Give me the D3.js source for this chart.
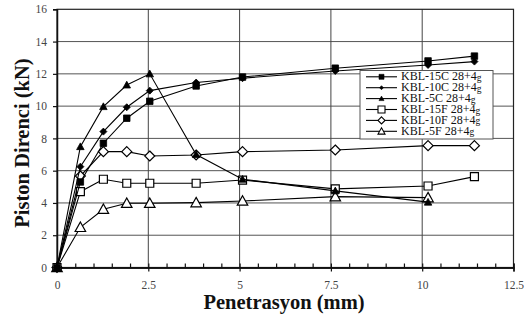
<!DOCTYPE html>
<html><head><meta charset="utf-8">
<script src="https://cdn.jsdelivr.net/npm/d3@7"></script>
<style>
html,body{margin:0;padding:0;background:#fff;}
svg text{font-family:'Liberation Serif','Times New Roman',Times,'DejaVu Serif',serif !important;}
</style></head>
<body>
<svg id="c" width="530" height="320"></svg>
<script>
const penetration = [0, 0.64, 1.27, 1.91, 2.54, 3.81, 5.08, 7.62, 10.16, 11.43];
const kbl15C = [0, 5.3, 7.7, 9.25, 10.3, 11.25, 11.8, 12.35, 12.8, 13.1];
const kbl10C = [0, 6.25, 8.42, 9.93, 10.96, 11.46, 11.73, 12.18, 12.55, 12.76];
const kbl5C  = [0, 7.49, 9.97, 11.31, 12.0, 7.0, 5.47, 4.75, 4.05, null];
const kbl15F = [0, 4.7, 5.47, 5.22, 5.22, 5.22, 5.42, 4.87, 5.05, 5.63];
const kbl10F = [0, 5.67, 7.18, 7.18, 6.91, 6.97, 7.18, 7.28, 7.55, 7.55];
const kbl5F  = [0, 2.49, 3.61, 3.98, 3.98, 4.02, 4.12, 4.39, 4.33, null];
const seriesNames = ["KBL-15C 28+4", "KBL-10C 28+4", "KBL-5C 28+4", "KBL-15F 28+4", "KBL-10F 28+4", "KBL-5F 28+4"];
const xTicks = [0, 2.5, 5, 7.5, 10, 12.5];
const yTicks = [0, 2, 4, 6, 8, 10, 12, 14, 16];
const xTitle = "Penetrasyon (mm)";
const yTitle = "Piston Direnci (kN)";

const series = [
  {name: seriesNames[0], values: kbl15C, shape: "square", fill: true, size: 6.5},
  {name: seriesNames[1], values: kbl10C, shape: "diamond", fill: true, size: 7},
  {name: seriesNames[2], values: kbl5C, shape: "triangle", fill: true, size: 7.5},
  {name: seriesNames[3], values: kbl15F, shape: "square", fill: false, size: 8},
  {name: seriesNames[4], values: kbl10F, shape: "diamond", fill: false, size: 10},
  {name: seriesNames[5], values: kbl5F, shape: "triangle", fill: false, size: 10.5}
];

const svg = d3.select("#c");
const x = d3.scaleLinear().domain([0, 12.5]).range([57, 513.5]);
const y = d3.scaleLinear().domain([0, 16]).range([267.5, 9.3]);

// grid
const grid = svg.append("g");
grid.selectAll("line.h").data(yTicks.slice(1, -1)).join("line")
  .attr("x1", x(0)).attr("x2", x(12.5)).attr("y1", d => y(d)).attr("y2", d => y(d))
  .attr("stroke", "#555").attr("stroke-width", 1);
grid.selectAll("line.v").data(xTicks.slice(1, -1)).join("line")
  .attr("y1", y(0)).attr("y2", y(16)).attr("x1", d => x(d)).attr("x2", d => x(d))
  .attr("stroke", "#444").attr("stroke-width", 1);
svg.append("rect").attr("x", x(0)).attr("y", y(16)).attr("width", x(12.5) - x(0)).attr("height", y(0) - y(16))
  .attr("fill", "none").attr("stroke", "#222").attr("stroke-width", 1.2);

// axes
const minor = d3.range(0, 12.51, 0.5);
const xAxisB = d3.axisBottom(x).tickValues(xTicks).tickSize(4).tickPadding(9).tickFormat(d => String(d));
const xAxisT = d3.axisTop(x).tickValues(minor).tickSize(4).tickFormat("");
const gxb = svg.append("g").attr("transform", `translate(0,${y(0)})`).call(xAxisB);
const gxt = svg.append("g").attr("transform", `translate(0,${y(0)})`).call(xAxisT);
const gy = svg.append("g").attr("transform", `translate(${x(0)},0)`).call(d3.axisLeft(y).tickValues(yTicks).tickSize(4).tickPadding(6));
[gxb, gxt, gy].forEach(g => {
  g.attr("font-family", null);
  g.select(".domain").attr("stroke", "#111").attr("stroke-width", 1.5);
  g.selectAll(".tick line").attr("stroke", "#111").attr("stroke-width", 1.2);
  g.selectAll("text").attr("font-size", 11.5).attr("fill", "#444");
});

function shapePath(shape, s) {
  const h = s / 2;
  if (shape === "square") return `M${-h},${-h}H${h}V${h}H${-h}Z`;
  if (shape === "diamond") return `M0,${-h}L${h},0L0,${h}L${-h},0Z`;
  return `M0,${-h}L${h},${h * 0.8}L${-h},${h * 0.8}Z`;
}

const line = d3.line().x(d => x(d[0])).y(d => y(d[1]));
const order = [5, 4, 3, 2, 1, 0];
order.forEach(i => {
  const s = series[i];
  const pts = penetration.map((p, j) => [p, s.values[j]]).filter(d => d[1] != null);
  svg.append("path").datum(pts).attr("d", line).attr("fill", "none").attr("stroke", "#000").attr("stroke-width", 1.1);
  svg.append("g").selectAll("path").data(pts).join("path")
    .attr("transform", d => `translate(${x(d[0])},${y(d[1])})`)
    .attr("d", shapePath(s.shape, s.size))
    .attr("fill", s.fill ? "#000" : "#fff")
    .attr("stroke", "#000").attr("stroke-width", s.fill ? 0.8 : 1.2);
});

// legend
const lg = svg.append("g");
lg.append("rect").attr("x", 360).attr("y", 70.5).attr("width", 133).attr("height", 68.5)
  .attr("fill", "#fff").attr("stroke", "#555").attr("stroke-width", 1);
series.forEach((s, i) => {
  const cy = 76.8 + i * 10.9;
  lg.append("line").attr("x1", 366).attr("x2", 397).attr("y1", cy).attr("y2", cy).attr("stroke", "#000").attr("stroke-width", 1.1);
  const ms = s.fill ? (s.shape === "diamond" ? 4 : 5) : 7;
  lg.append("path").attr("transform", `translate(381.5,${cy})`).attr("d", shapePath(s.shape, ms))
    .attr("fill", s.fill ? "#000" : "#fff").attr("stroke", "#000").attr("stroke-width", s.fill ? 0.6 : 1.1);
  const t = lg.append("text").attr("x", 401).attr("y", cy + 3.5).attr("font-size", 12).attr("fill", "#111");
  t.append("tspan").text(s.name);
  t.append("tspan").attr("dy", 0.5).attr("font-size", 9.5).text("g");
});

// titles
svg.append("text").attr("x", 284).attr("y", 309).attr("text-anchor", "middle")
  .attr("font-weight", "bold").attr("font-size", 20.5).attr("fill", "#111").text(xTitle);
svg.append("text").attr("transform", "translate(29,143) rotate(-90)").attr("text-anchor", "middle")
  .attr("font-weight", "bold").attr("font-size", 20.5).attr("fill", "#111").text(yTitle);
</script>
</body></html>
